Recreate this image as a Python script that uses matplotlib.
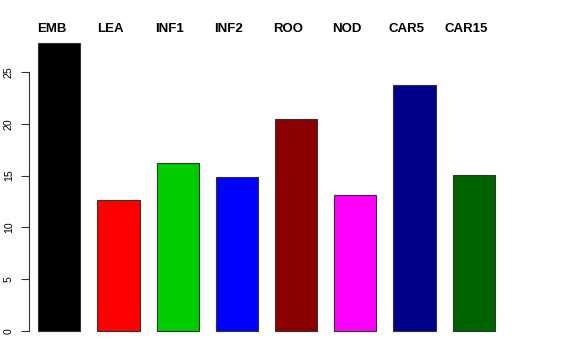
import matplotlib
matplotlib.use('Agg')
import matplotlib.pyplot as plt

# bar chart data
names = ['EMB', 'LEA', 'INF1', 'INF2', 'ROO', 'NOD', 'CAR5', 'CAR15']
values = [27.8, 12.6, 16.2, 14.9, 20.5, 13.1, 23.7, 15.1]
colors = ['#000000', '#FF0000', '#00CD00', '#0000FF',
          '#8B0000', '#FF00FF', '#00008B', '#006400']
yticks = [0, 5, 10, 15, 20, 25]

plt.rcParams['font.family'] = ['Liberation Sans', 'DejaVu Sans']

fig = plt.figure(figsize=(5.76, 3.6), dpi=100)
# axes placed in pixel terms: left edge = y axis line (x=29px), bottom=345px, top=20px
ax = fig.add_axes([29 / 576, (360 - 345) / 360, (570 - 29) / 576, (345 - 20) / 360])

pos = list(range(len(names)))
ax.bar(pos, values, width=0.71, color=colors, edgecolor='#333333', linewidth=0.8)

ax.set_xlim(-0.512, (570 - 59.3) / 59.2)
ax.set_ylim(-(345 - 331) / 10.36, (331 - 20) / 10.36)

for s in ['top', 'right', 'bottom']:
    ax.spines[s].set_visible(False)
ax.spines['left'].set_bounds(0, 25)
ax.spines['left'].set_color('#333333')
ax.spines['left'].set_linewidth(0.8)
ax.set_xticks([])
ax.set_yticks(yticks)
ax.set_yticklabels([str(t) for t in yticks], rotation=90, va='center')
ax.tick_params(axis='y', length=5.8, width=0.8, color='#333333', pad=5, labelsize=7.6)

# category names along the top
for i, name in enumerate(names):
    ax.text(i - 0.135, 29.15, name, ha='center', va='center',
            fontsize=9.5, fontweight='bold')

fig.savefig('out.png', dpi=100)
